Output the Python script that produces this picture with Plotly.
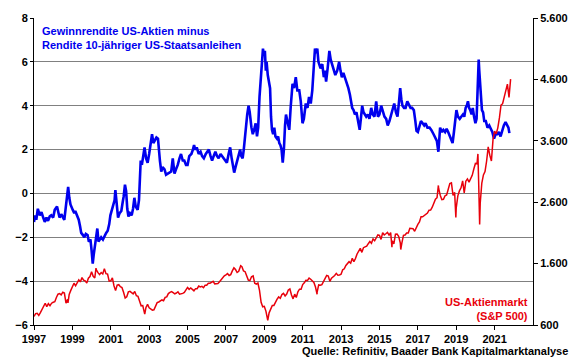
import plotly.graph_objects as go

# --- Blue series: earnings yield US equities minus 10y US Treasury yield (%)
spread_years = [
    1997.00, 1997.05, 1997.12, 1997.20, 1997.30, 1997.39, 1997.48, 1997.56, 1997.65, 1997.73, 1997.82, 1997.90,
    1998.00, 1998.08, 1998.20, 1998.27, 1998.33, 1998.42, 1998.50, 1998.58, 1998.64, 1998.73, 1998.78, 1998.84, 1998.90,
    1999.02, 1999.10, 1999.15, 1999.25, 1999.33, 1999.40, 1999.46, 1999.55, 1999.62, 1999.70, 1999.79, 1999.86, 1999.94,
    2000.00, 2000.06, 2000.11, 2000.17, 2000.24, 2000.30, 2000.36, 2000.42, 2000.50, 2000.59, 2000.68, 2000.76, 2000.84, 2000.92, 2000.98,
    2001.05, 2001.12, 2001.20, 2001.24, 2001.30, 2001.38, 2001.46, 2001.55, 2001.62, 2001.67, 2001.74, 2001.80, 2001.86, 2001.92,
    2002.00, 2002.09, 2002.16, 2002.23, 2002.30, 2002.40, 2002.47, 2002.52, 2002.56, 2002.62, 2002.69, 2002.76, 2002.84, 2002.92,
    2003.00, 2003.08, 2003.15, 2003.22, 2003.29, 2003.38, 2003.46, 2003.52, 2003.56, 2003.63, 2003.70, 2003.80, 2003.88, 2003.97,
    2004.06, 2004.15, 2004.23, 2004.28, 2004.32, 2004.40, 2004.49, 2004.58, 2004.66, 2004.75, 2004.83, 2004.92,
    2005.00, 2005.09, 2005.20, 2005.28, 2005.34, 2005.40, 2005.48, 2005.58, 2005.68, 2005.76, 2005.85, 2005.95,
    2006.03, 2006.11, 2006.20, 2006.28, 2006.36, 2006.45, 2006.54, 2006.62, 2006.72, 2006.80, 2006.88, 2006.96,
    2007.05, 2007.14, 2007.22, 2007.30, 2007.37, 2007.43, 2007.50, 2007.56, 2007.65, 2007.74, 2007.80, 2007.87, 2007.93, 2007.99,
    2008.05, 2008.11, 2008.18, 2008.24, 2008.33, 2008.40, 2008.47, 2008.55, 2008.62, 2008.68, 2008.75, 2008.80, 2008.87, 2008.93, 2008.98,
    2009.03, 2009.08, 2009.12, 2009.18, 2009.24, 2009.30, 2009.35, 2009.40, 2009.46, 2009.52, 2009.58, 2009.66, 2009.72, 2009.78, 2009.84, 2009.90, 2009.96,
    2010.02, 2010.08, 2010.13, 2010.20, 2010.30, 2010.38, 2010.47, 2010.55, 2010.64, 2010.72, 2010.82, 2010.90, 2010.99,
    2011.06, 2011.16, 2011.25, 2011.33, 2011.42, 2011.50, 2011.58, 2011.64, 2011.70, 2011.76, 2011.82, 2011.93,
    2012.02, 2012.10, 2012.16, 2012.22, 2012.30, 2012.39, 2012.46, 2012.53, 2012.62, 2012.70, 2012.80, 2012.90, 2012.97,
    2013.04, 2013.12, 2013.20, 2013.30, 2013.38, 2013.46, 2013.52, 2013.58, 2013.65, 2013.72, 2013.80, 2013.89, 2013.97,
    2014.03, 2014.10, 2014.17, 2014.23, 2014.31, 2014.40, 2014.48, 2014.57, 2014.65, 2014.74, 2014.83, 2014.92,
    2015.00, 2015.09, 2015.17, 2015.26, 2015.35, 2015.43, 2015.52, 2015.60, 2015.68, 2015.77, 2015.86, 2015.94,
    2016.02, 2016.08, 2016.14, 2016.20, 2016.28, 2016.36, 2016.45, 2016.52, 2016.62, 2016.70, 2016.79, 2016.87, 2016.93,
    2017.00, 2017.08, 2017.16, 2017.25, 2017.33, 2017.40, 2017.50, 2017.61, 2017.70, 2017.82, 2017.92, 2017.99,
    2018.07, 2018.12, 2018.16, 2018.25, 2018.33, 2018.42, 2018.50, 2018.58, 2018.67, 2018.74, 2018.81, 2018.88, 2018.93,
    2019.01, 2019.09, 2019.18, 2019.26, 2019.35, 2019.42, 2019.49, 2019.55, 2019.61, 2019.67, 2019.73, 2019.80, 2019.86, 2019.93,
    2020.00, 2020.06, 2020.12, 2020.17, 2020.20, 2020.24, 2020.30, 2020.34, 2020.40, 2020.46, 2020.54, 2020.63, 2020.72, 2020.80, 2020.88, 2020.97,
    2021.05, 2021.14, 2021.22, 2021.31, 2021.40, 2021.48, 2021.57, 2021.65, 2021.72, 2021.77,
]
spread_values = [
    -1.3, -1.0, -1.2, -0.7, -1.0, -0.85, -1.1, -1.3, -1.1, -1.25, -1.05, -1.0,
    -1.1, -0.75, -0.6, -0.9, -1.1, -0.95, -1.05, -1.2, -0.75, 0.0, 0.3, -0.2, -0.5,
    -0.75, -0.9, -0.8, -1.0, -1.2, -1.5, -1.8, -1.9, -2.0, -1.85, -1.9, -2.2, -2.1,
    -2.6, -3.2, -2.8, -2.4, -2.0, -1.6, -2.2, -2.1, -2.0, -2.1, -1.9, -1.8, -1.7, -1.4, -1.0,
    -0.8, -0.6, -0.3, 0.15, -0.5, -1.1, -0.9, -0.8, -0.4, -0.15, 0.4, 0.1, -0.7, -1.05,
    -0.9, -1.0, -0.7, -0.2, -0.6, -0.75, -0.3, 0.8, 1.5, 1.3, 1.8, 2.1, 1.6, 1.4,
    1.8, 2.2, 2.7, 2.3, 2.4, 2.55, 2.5, 1.8, 1.5, 1.0, 1.2, 1.1, 0.85, 0.9,
    0.95, 1.0, 1.6, 1.1, 0.9, 1.1, 1.3, 1.6, 1.8, 1.5, 1.5, 1.3,
    1.3, 1.7, 1.8, 2.0, 2.2, 2.0, 2.1, 1.8, 1.9, 1.7, 1.6, 1.8,
    1.9, 2.0, 1.7, 1.5, 1.7, 1.9, 1.7, 1.6, 1.8, 1.7, 1.6, 1.5,
    1.4, 1.8, 2.1, 1.6, 1.2, 0.95, 1.2, 1.4, 1.8, 2.0, 1.7, 1.6, 2.0, 2.6,
    3.0, 3.6, 4.0, 3.7, 3.0, 2.7, 2.9, 3.2, 2.6, 3.0, 4.4, 5.0, 6.2, 6.6, 6.3,
    6.5, 5.6, 6.0, 5.4, 5.0, 4.8, 3.5, 2.9, 2.7, 3.0, 2.6, 2.5, 2.6, 2.3, 2.2, 2.0, 1.4,
    2.0, 3.1, 3.6, 3.3, 2.9, 4.0, 5.0, 4.8, 5.3, 4.7, 4.7, 4.2, 3.2,
    3.4, 4.1, 3.9, 4.4, 4.1, 4.7, 5.8, 6.6, 6.4, 6.6, 6.0, 5.7,
    5.9, 5.3, 5.6, 5.1, 5.7, 6.5, 6.1, 5.9, 5.6, 5.4, 5.6, 6.0, 5.6,
    5.3, 5.5, 5.3, 5.1, 4.8, 4.5, 4.2, 3.9, 3.8, 3.6, 3.7, 3.3, 2.9,
    3.4, 4.0, 3.7, 3.6, 3.5, 3.6, 3.4, 3.9, 3.6, 3.5, 4.2, 3.5,
    3.6, 4.0, 3.8, 3.5, 3.4, 3.1, 3.3, 3.6, 3.8, 4.1, 3.7, 3.5,
    4.2, 4.8, 4.3, 4.0, 3.9, 3.9, 4.2, 4.1, 3.9, 3.9, 3.8, 3.3, 2.85,
    2.8, 3.1, 3.3, 3.2, 3.1, 3.2, 3.0, 3.0, 2.9, 2.7, 2.5, 2.4,
    1.9, 2.5, 3.0, 2.8, 2.9, 2.8, 2.95, 2.8, 2.6, 2.5, 2.3, 2.8, 3.3,
    3.8, 3.5, 3.4, 3.5, 3.6, 3.5, 3.9, 4.0, 4.2, 3.9, 3.8, 3.6, 3.9, 3.5,
    3.2, 3.4, 4.7, 6.1, 5.6, 4.8, 4.3, 3.8, 3.7, 3.3, 3.3, 3.0, 3.1, 2.95, 2.8, 2.5,
    2.7, 2.7, 2.8, 2.6, 2.9, 3.1, 3.25, 3.1, 3.0, 2.75,
]

# --- Red series: S&P 500 month-end levels (Jan 1997 .. Oct 2021)
sp500_start = 740
sp500_monthly = [
    786, 791, 757, 801, 848, 885, 954, 899, 947, 915, 955, 970,
    980, 1049, 1102, 1112, 1091, 1134, 1121, 957, 1017, 1099, 1164, 1229,
    1280, 1238, 1286, 1335, 1302, 1373, 1329, 1320, 1283, 1363, 1389, 1469,
    1394, 1366, 1499, 1452, 1421, 1455, 1431, 1518, 1437, 1429, 1315, 1320,
    1366, 1240, 1160, 1249, 1256, 1224, 1211, 1134, 1041, 1060, 1139, 1148,
    1130, 1107, 1147, 1077, 1067, 990, 912, 916, 815, 886, 936, 880,
    856, 841, 848, 917, 964, 975, 990, 1008, 996, 1051, 1058, 1112,
    1131, 1145, 1126, 1107, 1121, 1141, 1102, 1104, 1115, 1130, 1174, 1212,
    1181, 1204, 1181, 1157, 1192, 1191, 1234, 1220, 1229, 1207, 1249, 1248,
    1280, 1281, 1295, 1311, 1270, 1270, 1277, 1304, 1336, 1378, 1401, 1418,
    1438, 1407, 1421, 1482, 1531, 1503, 1455, 1474, 1527, 1549, 1481, 1468,
    1379, 1331, 1323, 1386, 1400, 1280, 1267, 1283, 1165, 969, 896, 903,
    826, 735, 798, 873, 919, 919, 987, 1021, 1057, 1036, 1096, 1115,
    1074, 1104, 1169, 1187, 1089, 1031, 1102, 1049, 1141, 1183, 1181, 1258,
    1286, 1327, 1326, 1364, 1345, 1321, 1292, 1219, 1131, 1253, 1247, 1258,
    1312, 1366, 1408, 1398, 1310, 1362, 1379, 1407, 1441, 1412, 1416, 1426,
    1498, 1515, 1569, 1598, 1631, 1606, 1686, 1633, 1682, 1757, 1806, 1848,
    1783, 1859, 1872, 1884, 1924, 1960, 1931, 2003, 1972, 2018, 2068, 2059,
    1995, 2105, 2068, 2086, 2107, 2063, 2104, 1972, 1920, 2079, 2080, 2044,
    1940, 1932, 2060, 2065, 2097, 2099, 2174, 2171, 2168, 2126, 2199, 2239,
    2279, 2364, 2363, 2384, 2412, 2423, 2470, 2472, 2519, 2575, 2648, 2674,
    2824, 2714, 2641, 2648, 2705, 2718, 2816, 2902, 2914, 2712, 2760, 2507,
    2704, 2784, 2834, 2946, 2752, 2942, 2980, 2926, 2977, 3038, 3141, 3231,
    3226, 2954, 2585, 2912, 3044, 3100, 3271, 3500, 3363, 3270, 3622, 3756,
    3714, 3811, 3973, 4181, 4204, 4298, 4395, 4523, 4308, 4605,
]
# intra-month extremes visible on the chart
sp500_extreme_years = [1998.77, 2000.23, 2002.77, 2007.77, 2009.18, 2010.50, 2011.75,
                       2015.65, 2016.11, 2018.07, 2018.98, 2020.13, 2020.22]
sp500_extreme_values = [959, 1527, 777, 1565, 677, 1022, 1099,
                        1868, 1829, 2873, 2351, 3386, 2237]

x_ticks = [1997, 1999, 2001, 2003, 2005, 2007, 2009, 2011, 2013, 2015, 2017, 2019, 2021]

# build red series (month-end positions on a decimal-year axis)
sp_pts = [(1997.0, sp500_start)]
for i, v in enumerate(sp500_monthly):
    sp_pts.append((1997 + (i + 1) / 12.0, v))
sp_pts += list(zip(sp500_extreme_years, sp500_extreme_values))
sp_pts.sort()
sp_x = [p[0] for p in sp_pts]
sp_y = [p[1] for p in sp_pts]

FONT = "Liberation Sans, Arial, sans-serif"
BLUE = "#0000ee"
RED = "#e8000b"

fig = go.Figure()
fig.add_trace(go.Scatter(x=spread_years, y=spread_values, mode="lines",
                         line=dict(color=BLUE, width=2.6), yaxis="y", showlegend=False))
fig.add_trace(go.Scatter(x=sp_x, y=sp_y, mode="lines",
                         line=dict(color=RED, width=1.5), yaxis="y2", showlegend=False))

tickfont = dict(family=FONT, size=11, color="black", weight=700)

fig.update_layout(
    width=580, height=359,
    margin=dict(l=34, r=39, t=16, b=34),
    paper_bgcolor="white", plot_bgcolor="white",
    separators=",.",
    xaxis=dict(range=[1997, 2023], tickvals=x_ticks, ticktext=[str(t) for t in x_ticks],
               showgrid=False, zeroline=False, showline=True, linecolor="black", linewidth=1,
               ticks="outside", ticklen=4, tickcolor="black", tickfont=tickfont),
    yaxis=dict(range=[-6, 8], tickvals=[-6, -4, -2, 0, 2, 4, 6, 8],
               showgrid=True, gridcolor="#808080", gridwidth=1, zeroline=False,
               showline=True, linecolor="black", linewidth=1,
               ticks="outside", ticklen=3, tickcolor="black", tickfont=tickfont),
    yaxis2=dict(range=[600, 5600], tickvals=[600, 1600, 2600, 3600, 4600, 5600],
                tickformat=",", overlaying="y", side="right", showgrid=False, zeroline=False,
                showline=True, linecolor="black", linewidth=1,
                ticks="outside", ticklen=4, tickcolor="black", tickfont=tickfont),
    annotations=[
        dict(text="Gewinnrendite US-Aktien minus<br>Rendite 10-jähriger US-Staatsanleihen",
             xref="paper", yref="paper", x=0.012, y=0.985, xanchor="left", yanchor="top",
             align="left", showarrow=False,
             font=dict(family=FONT, size=11, color=BLUE, weight=700)),
        dict(text="US-Aktienmarkt<br>(S&P 500)",
             xref="paper", yref="paper", x=0.993, y=0.10, xanchor="right", yanchor="top",
             align="right", showarrow=False,
             font=dict(family=FONT, size=11, color=RED, weight=700)),
        dict(text="Quelle: Refinitiv, Baader Bank Kapitalmarktanalyse",
             xref="paper", yref="paper", x=1.0, y=0.0, xanchor="right", yanchor="bottom",
             xshift=37, yshift=-34, showarrow=False,
             font=dict(family=FONT, size=11, color="black", weight=700)),
    ],
)

fig.write_html("out.html", config={"displayModeBar": False},
               post_script="document.body.style.margin='0';document.body.style.overflow='hidden';")
